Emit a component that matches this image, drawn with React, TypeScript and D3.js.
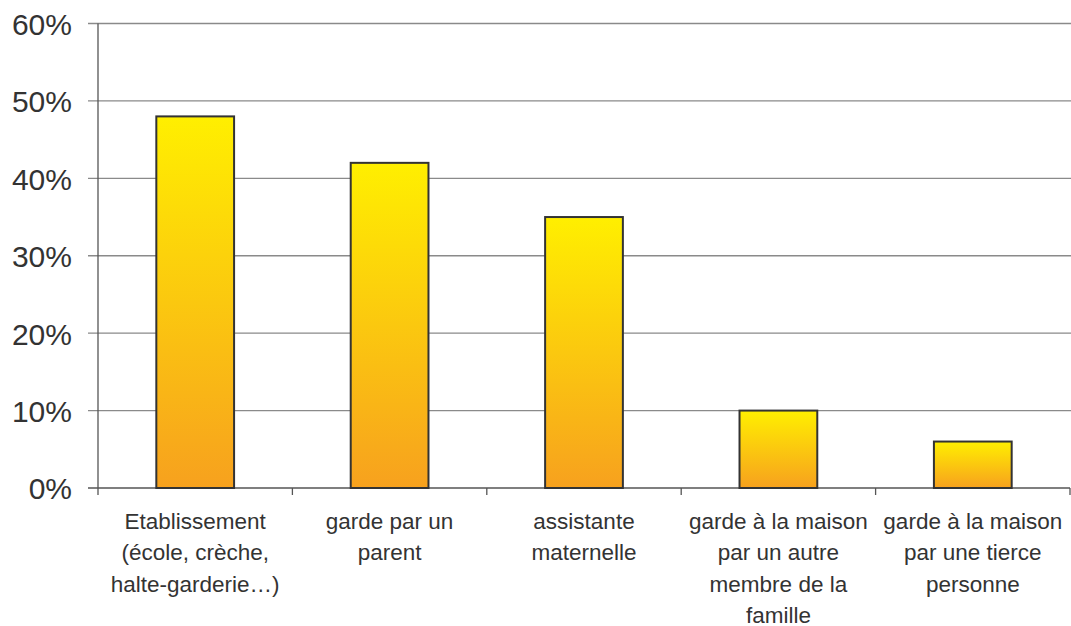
import React from "react";
import * as d3 from "d3";

const categories: string[][] = [
  ["Etablissement", "(école, crèche,", "halte-garderie…)"],
  ["garde par un", "parent"],
  ["assistante", "maternelle"],
  ["garde à la maison", "par un autre", "membre de la", "famille"],
  ["garde à la maison", "par une tierce", "personne"],
];
const values = [48, 42, 35, 10, 6];
const yTicks = [0, 10, 20, 30, 40, 50, 60];

const W = 1071;
const H = 626;
const left = 98;
const right = 1070;
const top = 23.5;
const bottom = 488;

export default function App() {
  const x = d3
    .scaleBand<number>()
    .domain(values.map((_, i) => i))
    .range([left, right])
    .paddingInner(0.6)
    .paddingOuter(0.3);
  const y = d3.scaleLinear().domain([0, 60]).range([bottom, top]);
  const step = (right - left) / values.length;

  return (
    <svg
      width={W}
      height={H}
      style={{ position: "absolute", left: 0, top: 0, background: "#fff" }}
      fontFamily="'Liberation Sans', Arial, sans-serif"
    >
      <defs>
        <linearGradient id="barGrad" x1="0" y1="0" x2="0" y2="1">
          <stop offset="0%" stopColor="#FFEF00" />
          <stop offset="100%" stopColor="#F7A11E" />
        </linearGradient>
      </defs>
      {yTicks.map((t) => (
        <g key={t}>
          <line
            x1={left - 10}
            x2={t === 0 ? right : right + 1}
            y1={y(t)}
            y2={y(t)}
            stroke={t === 0 ? "#555" : "#8a8a8a"}
            strokeWidth={1.3}
          />
          <text
            x={72}
            y={y(t)}
            dy="0.38em"
            textAnchor="end"
            fontSize={30}
            fill="#333"
          >
            {t}%
          </text>
        </g>
      ))}
      <line x1={left} x2={left} y1={top} y2={bottom} stroke="#555" strokeWidth={1.3} />
      {d3.range(values.length + 1).map((i) => (
        <line
          key={i}
          x1={left + i * step}
          x2={left + i * step}
          y1={bottom}
          y2={bottom + 7}
          stroke="#555"
          strokeWidth={1.3}
        />
      ))}
      {values.map((v, i) => (
        <rect
          key={i}
          x={x(i)!}
          y={y(v)}
          width={x.bandwidth()}
          height={bottom - y(v)}
          fill="url(#barGrad)"
          stroke="#333"
          strokeWidth={2}
        />
      ))}
      {categories.map((lines, i) => (
        <text
          key={i}
          x={x(i)! + x.bandwidth() / 2}
          y={529}
          textAnchor="middle"
          fontSize={22.5}
          fill="#333"
        >
          {lines.map((l, j) => (
            <tspan key={j} x={x(i)! + x.bandwidth() / 2} dy={j === 0 ? 0 : 31.3}>
              {l}
            </tspan>
          ))}
        </text>
      ))}
    </svg>
  );
}
